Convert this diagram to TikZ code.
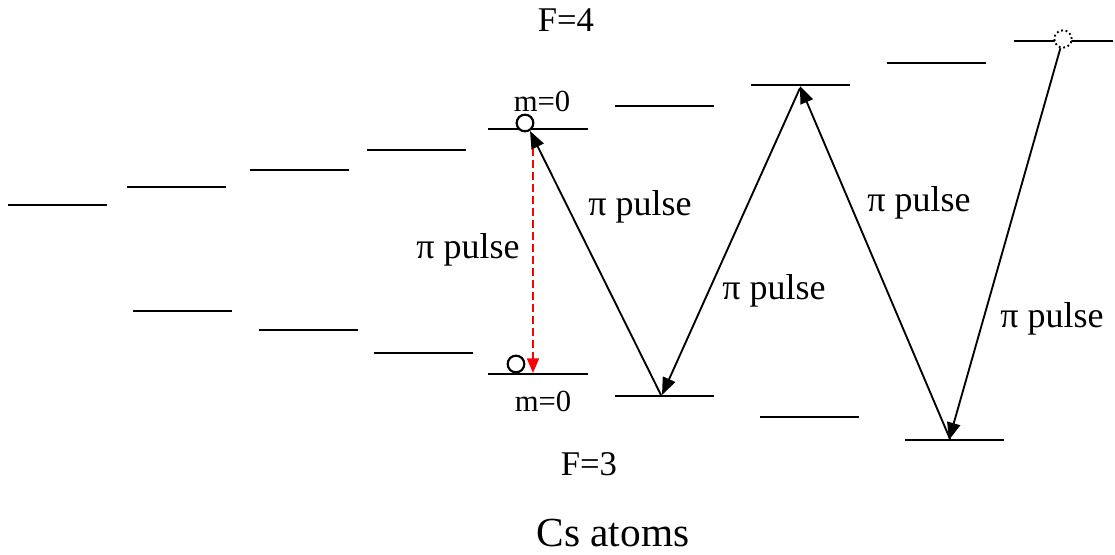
\documentclass[tikz,border=0pt]{standalone}
\usepackage{fontspec}
\setmainfont{Liberation Serif}
\usetikzlibrary{arrows.meta}
\begin{document}
\begin{tikzpicture}[x=0.75pt,y=-0.75pt,
  level/.style={line width=1.7pt},
  pulse/.style={line width=1.4pt,-{Triangle[length=13pt,width=10pt]}},
  redpulse/.style={line width=1.4pt,red,dash pattern=on 6pt off 3pt,-{Triangle[length=11pt,width=9pt]}},
  lbl/.style={inner sep=0pt,font=\fontsize{27}{31}\selectfont},
  mlbl/.style={inner sep=0pt,font=\fontsize{23}{27}\selectfont},
  flbl/.style={inner sep=0pt,font=\fontsize{26}{30}\selectfont},
  atom/.style={circle,draw,line width=1.6pt,minimum size=12.5pt,inner sep=0pt}]
\useasboundingbox (0,0) rectangle (1115,554);
% F=4 levels
\draw[level] (8,205) -- (107,205);
\draw[level] (127,187) -- (226,187);
\draw[level] (250,170) -- (349,170);
\draw[level] (367,150) -- (466,150);
\draw[level] (488,129) -- (588,129);
\draw[level] (615,106) -- (714,106);
\draw[level] (751,85) -- (850,85);
\draw[level] (887,63) -- (986,63);
\draw[level] (1014,41) -- (1113,41);
% F=3 levels
\draw[level] (133,311) -- (232,311);
\draw[level] (259,330) -- (358,330);
\draw[level] (374,353) -- (473,353);
\draw[level] (488,374) -- (588,374);
\draw[level] (615,396) -- (714,396);
\draw[level] (760,417) -- (859,417);
\draw[level] (905,440) -- (1004,440);
% atoms
\node[atom,fill=white] (up) at (525,123) {};
\node[atom,fill=white] (lo) at (516,364) {};
\node[circle,draw,dotted,line width=1.4pt,minimum size=13pt,inner sep=0pt,fill=white] (top) at (1063,39) {};
% arrow ends
\coordinate (r1) at (533,136);
\coordinate (r2) at (533,373);
\coordinate (a0) at (661,395);
\coordinate (a1) at (530,131);
\coordinate (b0) at (800,88);
\coordinate (b1) at (662,395);
\coordinate (c0) at (950,439);
\coordinate (c1) at (800,86);
\coordinate (d1) at (949,440);
\draw[redpulse] (r1) -- (r2);
\draw[pulse] (a0) -- (a1);
\draw[pulse] (b0) -- (b1);
\draw[pulse] (c0) -- (c1);
\draw[pulse] (top) -- (d1);
% labels
\node[flbl] (f4) at (566,20) {F=4};
\node[mlbl] (m4) at (542,101) {m=0};
\node[lbl] (p0) at (468,250) {π pulse};
\node[lbl] (p1) at (640,207) {π pulse};
\node[lbl] (p2) at (774,291) {π pulse};
\node[lbl] (p3) at (919,203) {π pulse};
\node[lbl] (p4) at (1052,319) {π pulse};
\node[mlbl] (m3) at (543,401) {m=0};
\node[flbl] (f3) at (589,464) {F=3};
\node[inner sep=0pt,font=\fontsize{31}{36}\selectfont] (cs) at (613,533) {Cs atoms};
\end{tikzpicture}
\end{document}
